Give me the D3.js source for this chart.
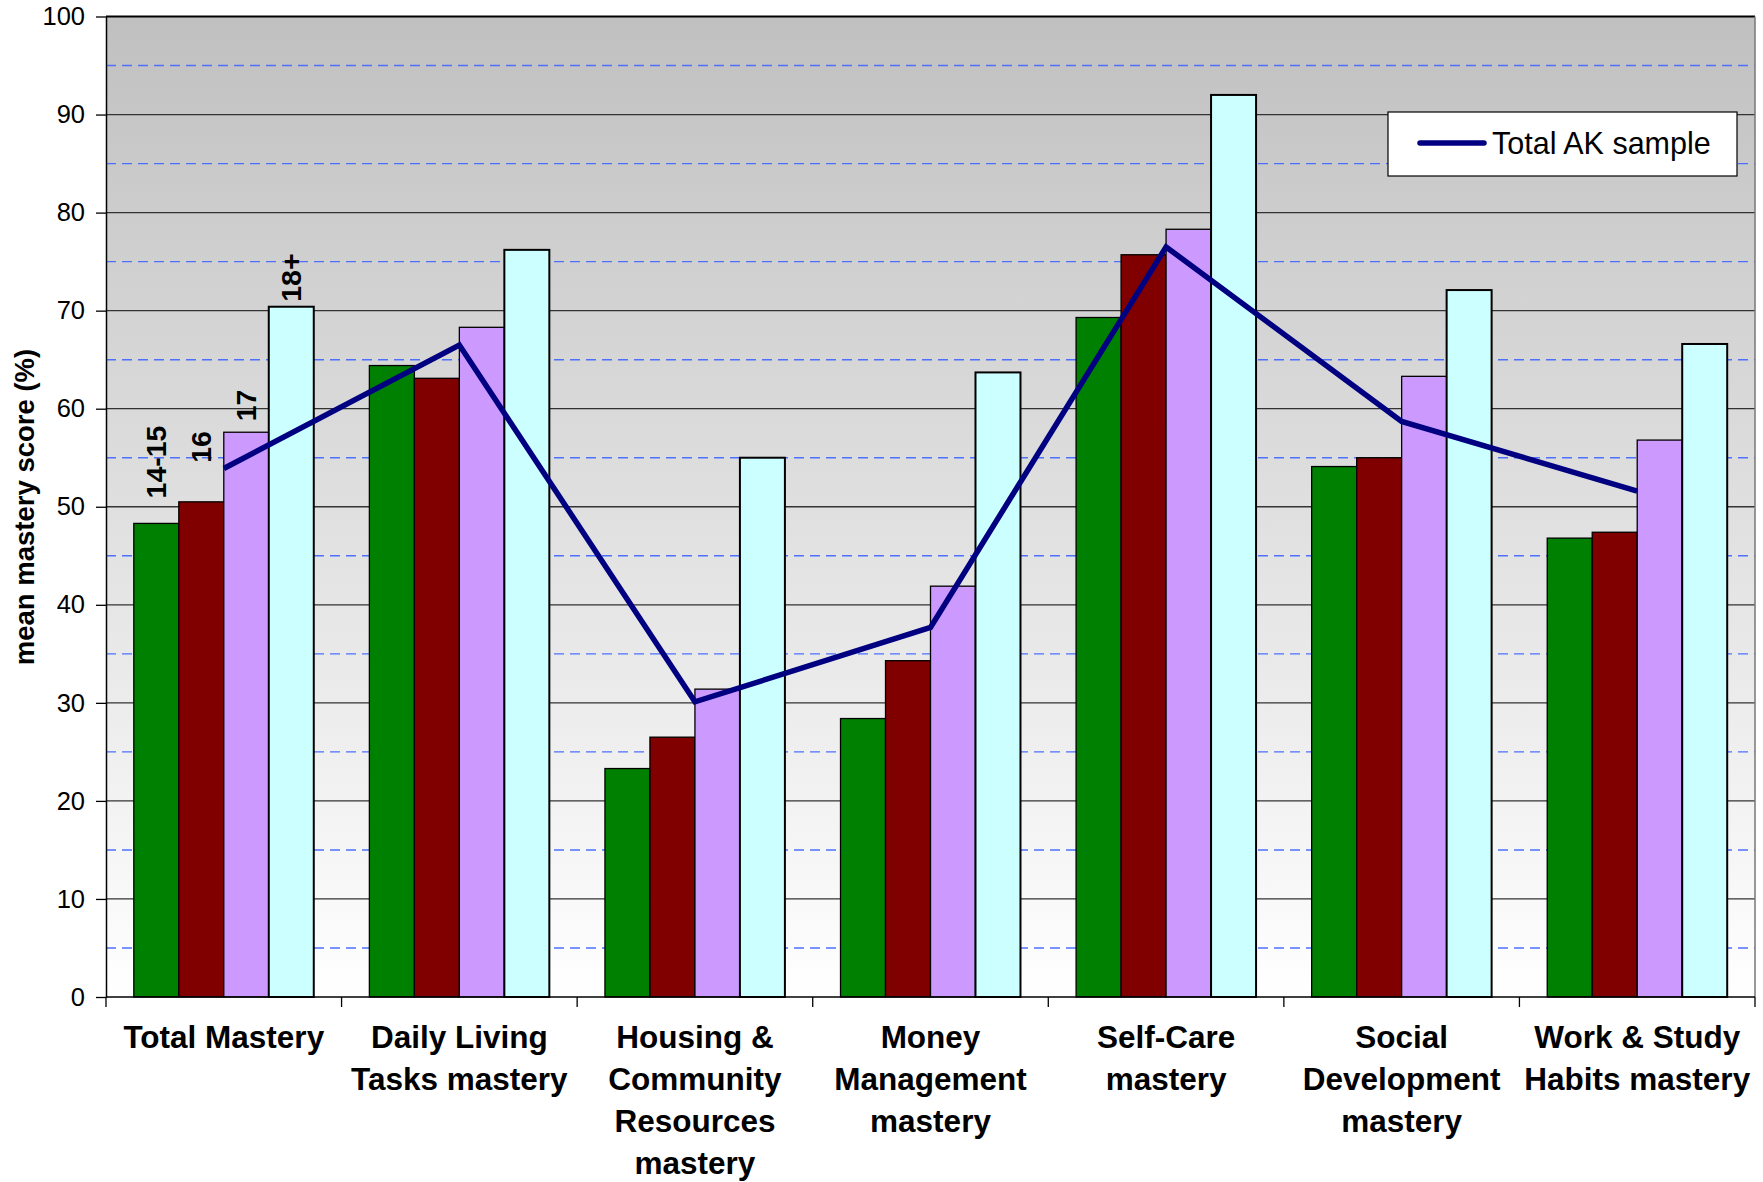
<!DOCTYPE html>
<html>
<head>
<meta charset="utf-8">
<script src="https://cdn.jsdelivr.net/npm/d3@7"></script>
<style>
  html, body { margin: 0; padding: 0; background: #ffffff; }
  svg { display: block; font-family: "Liberation Sans", Arial, sans-serif; }
</style>
</head>
<body>
<svg id="chart" width="1763" height="1182"></svg>
<script>
// Mastery domains along the x axis
const categories = [
  "Total Mastery",
  "Daily Living Tasks mastery",
  "Housing & Community Resources mastery",
  "Money Management mastery",
  "Self-Care mastery",
  "Social Development mastery",
  "Work & Study Habits mastery"
];
// Wrapped text for each category label
const categoryLines = [
  ["Total Mastery"],
  ["Daily Living", "Tasks mastery"],
  ["Housing &", "Community", "Resources", "mastery"],
  ["Money", "Management", "mastery"],
  ["Self-Care", "mastery"],
  ["Social", "Development", "mastery"],
  ["Work & Study", "Habits mastery"]
];

// Age groups
const series = ["14-15", "16", "17", "18+"];

// Mean mastery score (%) per age group
const age1415 = [48.3, 64.4, 23.3, 28.4, 69.3, 54.1, 46.8];
const age16   = [50.5, 63.1, 26.5, 34.3, 75.7, 55.0, 47.4];
const age17   = [57.6, 68.3, 31.4, 41.9, 78.3, 63.3, 56.8];
const age18   = [70.4, 76.2, 55.0, 63.7, 92.0, 72.1, 66.6];

// Whole-sample mean
const totalSample = [53.9, 66.5, 30.1, 37.7, 76.5, 58.7, 51.6];

const yTicks = [0, 10, 20, 30, 40, 50, 60, 70, 80, 90, 100];
const yMinorTicks = [5, 15, 25, 35, 45, 55, 65, 75, 85, 95];

const seriesValues = [age1415, age16, age17, age18];
const seriesColors = ["#008000", "#800000", "#cc99ff", "#ccffff"];

const svg = d3.select("#chart");
const plotLeft = 106, plotRight = 1755, plotTop = 16.5, plotBottom = 997;

const x0 = d3.scaleBand().domain(categories).range([plotLeft, plotRight]).paddingInner(0).paddingOuter(0);
const x1 = d3.scaleBand().domain(series).range([0, x0.bandwidth()]).paddingInner(0).paddingOuter(0.618);
const y = d3.scaleLinear().domain([0, 100]).range([plotBottom, plotTop]);

// Plot background: grey at the top fading to white
const defs = svg.append("defs");
const grad = defs.append("linearGradient").attr("id", "bg")
  .attr("x1", 0).attr("y1", 0).attr("x2", 0).attr("y2", 1);
grad.append("stop").attr("offset", "0%").attr("stop-color", "#c0c0c0");
grad.append("stop").attr("offset", "100%").attr("stop-color", "#ffffff");

svg.append("rect")
  .attr("x", plotLeft).attr("y", plotTop)
  .attr("width", plotRight - plotLeft).attr("height", plotBottom - plotTop)
  .attr("fill", "url(#bg)");

// Minor gridlines (dashed blue)
svg.append("g").selectAll("line").data(yMinorTicks).join("line")
  .attr("x1", plotLeft).attr("x2", plotRight)
  .attr("y1", d => y(d)).attr("y2", d => y(d))
  .attr("stroke", "#4d70ff")
  .attr("stroke-width", 1.4).attr("stroke-dasharray", "10,6");

// Major gridlines
svg.append("g").selectAll("line").data(yTicks.filter(d => d > 0 && d < 100)).join("line")
  .attr("x1", plotLeft).attr("x2", plotRight)
  .attr("y1", d => y(d)).attr("y2", d => y(d))
  .attr("stroke", "#333333").attr("stroke-width", 1.3);

// Bars
const groups = svg.append("g").selectAll("g").data(categories).join("g")
  .attr("transform", d => `translate(${x0(d)},0)`);

groups.selectAll("rect")
  .data((c, ci) => series.map((s, si) => ({ s, si, v: seriesValues[si][ci] })))
  .join("rect")
  .attr("x", d => x1(d.s))
  .attr("width", x1.bandwidth())
  .attr("y", d => y(d.v))
  .attr("height", d => y(0) - y(d.v))
  .attr("fill", d => seriesColors[d.si])
  .attr("stroke", "#000000")
  .attr("stroke-width", d => d.si === 3 ? 2 : 1.3);

// Plot frame
svg.append("line").attr("x1", plotLeft).attr("x2", plotRight).attr("y1", plotTop).attr("y2", plotTop)
  .attr("stroke", "#000").attr("stroke-width", 2);
svg.append("line").attr("x1", plotRight).attr("x2", plotRight).attr("y1", plotTop).attr("y2", plotBottom)
  .attr("stroke", "#777").attr("stroke-width", 1.5);

// Y axis
const yAxis = d3.axisLeft(y).tickValues(yTicks).tickSize(10).tickPadding(11).tickSizeOuter(0);
const yg = svg.append("g").attr("transform", `translate(${plotLeft},0)`).call(yAxis);
yg.select(".domain").attr("stroke", "#000").attr("stroke-width", 1.5);
yg.selectAll(".tick line").attr("stroke", "#000").attr("stroke-width", 1.3);
yg.selectAll(".tick text")
  .attr("font-size", 25.5).attr("fill", "#000")
  .attr("font-family", "'Liberation Sans', Arial, sans-serif");

// X axis with ticks at category boundaries
svg.append("line").attr("x1", plotLeft).attr("x2", plotRight).attr("y1", plotBottom).attr("y2", plotBottom)
  .attr("stroke", "#000").attr("stroke-width", 1.5);
const boundaries = categories.map(c => x0(c)).concat([plotRight]);
svg.append("g").selectAll("line").data(boundaries).join("line")
  .attr("x1", d => d).attr("x2", d => d)
  .attr("y1", plotBottom).attr("y2", plotBottom + 10)
  .attr("stroke", "#000").attr("stroke-width", 1.3);

// Category labels
const catLabels = svg.append("g").selectAll("text").data(categories).join("text")
  .attr("text-anchor", "middle")
  .attr("font-size", 31.5).attr("font-weight", "bold").attr("fill", "#000")
  .attr("transform", d => `translate(${x0(d) + x0.bandwidth() / 2},1048)`);
catLabels.selectAll("tspan")
  .data((d, i) => categoryLines[i])
  .join("tspan")
  .attr("x", 0)
  .attr("y", (d, i) => i * 42)
  .text(d => d);

// Y axis title
svg.append("text")
  .attr("transform", "translate(34,507) rotate(-90)")
  .attr("text-anchor", "middle")
  .attr("font-size", 27.5).attr("font-weight", "bold").attr("fill", "#000")
  .text("mean mastery score (%)");

// Age-group labels above the first group of bars
const labelGap = [25, 39, 11, 5];
svg.append("g").selectAll("text").data(series).join("text")
  .attr("transform", (s, si) => {
    const cx = x0(categories[0]) + x1(s) + x1.bandwidth() / 2;
    const yy = y(seriesValues[si][0]) - labelGap[si];
    return `translate(${cx + 10},${yy}) rotate(-90)`;
  })
  .attr("text-anchor", "start")
  .attr("font-size", 28.5).attr("font-weight", "bold").attr("fill", "#000")
  .text(d => d);

// Whole-sample line
const line = d3.line()
  .x((d, i) => x0(categories[i]) + x0.bandwidth() / 2)
  .y(d => y(d));
svg.append("path")
  .datum(totalSample)
  .attr("d", line)
  .attr("fill", "none")
  .attr("stroke", "#000080")
  .attr("stroke-width", 5.5)
  .attr("stroke-linejoin", "miter");

// Legend
const lg = svg.append("g");
lg.append("rect").attr("x", 1388).attr("y", 112).attr("width", 349).attr("height", 64)
  .attr("fill", "#fff").attr("stroke", "#000").attr("stroke-width", 1.2);
lg.append("line").attr("x1", 1420).attr("x2", 1484).attr("y1", 143).attr("y2", 143)
  .attr("stroke", "#000080").attr("stroke-width", 5.5).attr("stroke-linecap", "round");
lg.append("text").attr("x", 1492).attr("y", 154)
  .attr("font-size", 30.5).attr("fill", "#000")
  .text("Total AK sample");
</script>
</body>
</html>
